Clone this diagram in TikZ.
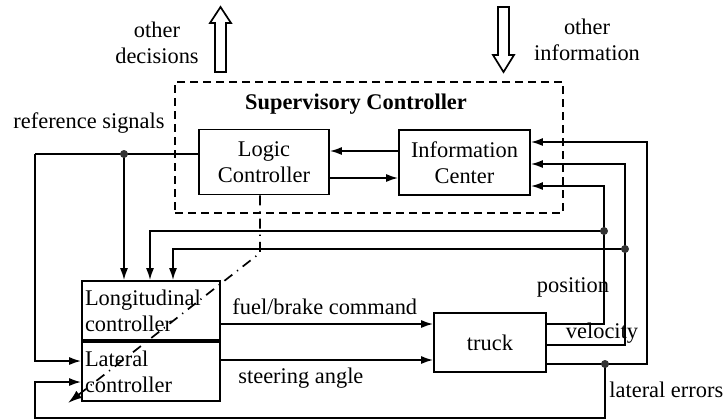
\documentclass[tikz,border=0pt]{standalone}
\usepackage{fontspec}
\setmainfont{Liberation Serif}
\usetikzlibrary{arrows.meta, positioning, calc}
\tikzset{
  blockbox/.style={draw, line width=0.85pt, inner sep=1pt, align=center}, % plain block
  ctrlbox/.style={draw, line width=0.85pt, minimum width=69pt, minimum height=29.5pt,
    text width=66pt, align=left, inner sep=1.5pt}, % controller blocks, text on the left
  sig/.style={-{Latex[length=6pt,width=4pt]}, line width=0.85pt}, % signal with arrow
  wire/.style={line width=0.85pt},
  lbl/.style={inner sep=0pt, align=center},
  hollow/.style={draw, line width=0.85pt, fill=white},
  every node/.style={font=\fontsize{11.2}{13}\selectfont},
}
\begin{document}
\begin{tikzpicture}[x=0.5pt, y=-0.5pt]
\useasboundingbox (0,0) rectangle (726,419);

% supervisory part
\node[draw, dash pattern=on 4pt off 2.5pt, line width=0.85pt, minimum width=194pt, minimum height=65.5pt] (sup) at (369,147.5) {};
\node[lbl, font=\fontsize{11.2}{13}\selectfont\bfseries] (suptitle) at (356,104) {Supervisory Controller};
\node[blockbox, minimum width=65pt, minimum height=32.5pt] (logic) at (264,162) {Logic\\Controller};
\node[blockbox, minimum width=65.5pt, minimum height=32.5pt] (info) at (464.5,162.5) {Information\\Center};

% controllers and truck
\node[ctrlbox] (lon) at (151,310.5) {Longitudinal\\controller};
\node[ctrlbox] (lat) at (151,371.5) {Lateral\\controller};
\node[blockbox, minimum width=56pt, minimum height=29.5pt] (truck) at (490,342.5) {truck};

% hollow arrows to the outside
\draw[hollow] (215,72) -- (215,23) -- (210,23) -- (220.5,7) -- (231,23) -- (226,23) -- (226,72) -- cycle;
\draw[hollow] (498,7) -- (498,55) -- (493,55) -- (503.5,72) -- (514,55) -- (509,55) -- (509,7) -- cycle;
\node[lbl] (decis) at (157,43) {other\\decisions};
\node[lbl] (infos) at (587,40) {other\\information};

% junctions and corners
\coordinate (refl) at (35,154);
\coordinate (refdot) at (124,154);
\coordinate (posup) at (604,186);
\coordinate (velup) at (625,164);
\coordinate (errup) at (647,142);
\coordinate (posdot) at (604,231);
\coordinate (veldot) at (625,249);
\coordinate (errdot) at (605,364);
\coordinate (lp) at (150,231);
\coordinate (lv) at (173,249);
\coordinate (errbot) at (35,418);
\coordinate (ddbend) at (260,253);
\coordinate (ddtip) at (68,403);

% inside the supervisor
\draw[sig] ([yshift=5.75pt]info.west) -- ([yshift=5.75pt]info.west -| logic.east);
\draw[sig] ([yshift=-8pt]logic.east) -- ([yshift=-8pt]logic.east -| info.west);

% reference signals
\draw[wire] ([yshift=4pt]logic.west) -- (refl);
\draw[sig] (refl) |- ([yshift=5.25pt]lat.west);
\draw[sig] (refdot) -- (refdot |- lon.north);

% commands
\draw[sig] ([yshift=-6.75pt]lon.east) -- ([yshift=-6.75pt]lon.east -| truck.west);
\draw[sig] ([yshift=5.75pt]lat.east) -- ([yshift=5.75pt]lat.east -| truck.west);

% measurements back
\draw[sig] ([yshift=9.25pt]truck.east) -| (posup) -- (posup -| info.east);
\draw[sig] ([yshift=-1.25pt]truck.east) -| (velup) -- (velup -| info.east);
\draw[sig] ([yshift=-10.75pt]truck.east) -| (errup) -- (errup -| info.east);
\draw[sig] (posdot) -- (lp) -- (lp |- lon.north);
\draw[sig] (veldot) -- (lv) -- (lv |- lon.north);
\draw[sig] (errdot) |- (errbot) |- ([yshift=-5.25pt]lat.west);

% switching
\draw[wire, dash pattern=on 5pt off 3pt on 0.6pt off 3pt, -{Latex[length=7pt,width=4.5pt]}] ([xshift=-2pt]logic.south) -- (ddbend) -- (ddtip);

\foreach \d in {refdot, posdot, veldot, errdot}
  \fill[black!80] (\d) circle (2pt);

% labels
\node[lbl] (reflbl) at (89,123) {reference signals};
\node[lbl, anchor=west] (fuellbl) at (232,307) {fuel/brake command};
\node[lbl, anchor=west] (steerlbl) at (238,378) {steering angle};
\node[lbl] (poslbl) at (573,287) {position};
\node[lbl] (vellbl) at (602,333) {velocity};
\node[lbl, anchor=west] (errlbl) at (609,390) {lateral errors};
\end{tikzpicture}
\end{document}
